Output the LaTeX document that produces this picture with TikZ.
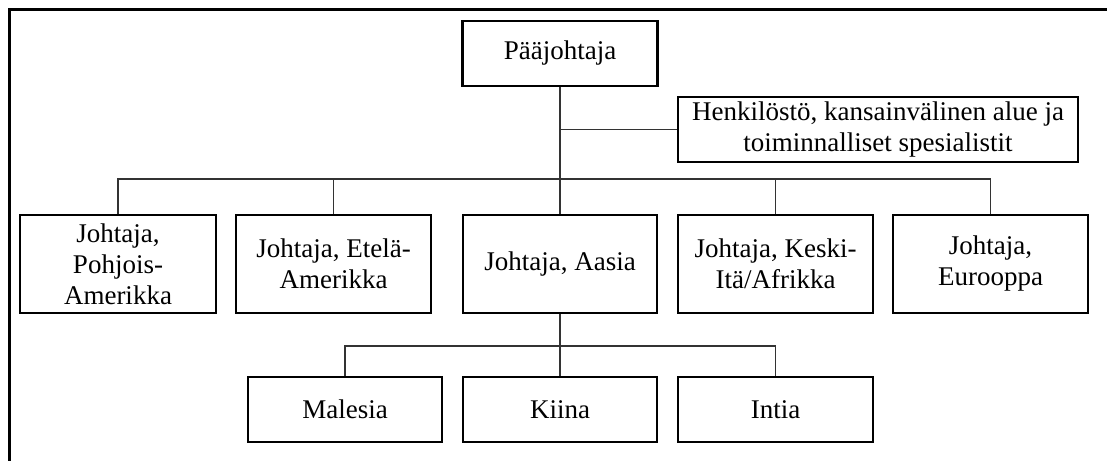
\documentclass[tikz,border=0pt]{standalone}
\usepackage{fontspec}
\setmainfont{Liberation Serif}
\begin{document}
\begin{tikzpicture}[x=1pt,y=-1pt,
  orgbox/.style={draw=black,line width=2.2pt,fill=white,inner sep=0pt,align=center,
    font=\fontsize{27}{31}\selectfont},
  conn/.style={draw=black!80,line width=1.3pt}]
\useasboundingbox (0,0) rectangle (1107,460);
\clip (0,0) rectangle (1107,460);
\draw[line width=3pt] (9,10) rectangle (1140,490);
% level 0
\node[orgbox,minimum width=195pt,minimum height=65pt] (ceo) at (560,53.5) {Pääjohtaja};
\node[orgbox,minimum width=400pt,minimum height=65pt] (staff) at (878,129.5) {Henkilöstö, kansainvälinen alue ja\\toiminnalliset spesialistit};
% level 1
\node[orgbox,minimum width=196pt,minimum height=98pt] (na) at (118,264) {Johtaja,\\Pohjois-\\Amerikka};
\node[orgbox,minimum width=195pt,minimum height=98pt] (sa) at (333.5,264) {Johtaja, Etelä-\\Amerikka};
\node[orgbox,minimum width=194pt,minimum height=98pt] (asia) at (560,264) {Johtaja, Aasia};
\node[orgbox,minimum width=195pt,minimum height=98pt] (me) at (775.5,264) {Johtaja, Keski-\\Itä/Afrikka};
\node[orgbox,minimum width=195pt,minimum height=98pt] (eu) at (990.5,264) {Johtaja,\\Eurooppa};
% level 2
\node[orgbox,minimum width=194pt,minimum height=65pt] (my) at (345,409.5) {Malesia};
\node[orgbox,minimum width=194pt,minimum height=65pt] (cn) at (560,409.5) {Kiina};
\node[orgbox,minimum width=195pt,minimum height=65pt] (in) at (775.5,409.5) {Intia};
% connectors
\coordinate (bus) at (560,179);
\coordinate (sbus) at (560,346);
\draw[conn] (ceo.south) -- (asia.north);
\draw[conn] (ceo.south |- staff.west) -- (staff.west);
\draw[conn] (na.north) -- (na.north |- bus) -- (eu.north |- bus) -- (eu.north);
\draw[conn] (sa.north) -- (sa.north |- bus);
\draw[conn] (me.north) -- (me.north |- bus);
\draw[conn] (asia.south) -- (cn.north);
\draw[conn] (my.north) -- (my.north |- sbus) -- (in.north |- sbus) -- (in.north);
\end{tikzpicture}
\end{document}
